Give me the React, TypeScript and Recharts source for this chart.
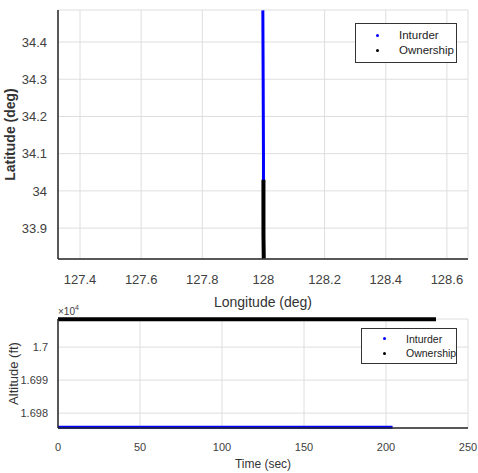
import React from 'react';
import { LineChart, Line, XAxis, YAxis, CartesianGrid, Legend, Label } from 'recharts';

// top panel: ground track
const intruderLon = [127.998, 127.999, 128.0, 128.0, 128.0];
const intruderLat = [34.485, 34.3, 34.1, 34.0, 33.92];
const ownshipLon = [128.0, 128.0, 128.0, 128.001];
const ownshipLat = [34.03, 33.95, 33.88, 33.818];
const lonTicks = [127.4, 127.6, 127.8, 128, 128.2, 128.4, 128.6];
const latTicks = [33.9, 34, 34.1, 34.2, 34.3, 34.4];

// bottom panel: altitude vs time
const intruderTime = [0, 50, 100, 150, 204];
const intruderAlt = [16975.7, 16975.7, 16975.7, 16975.7, 16975.7];
const ownshipTime = [0, 50, 100, 150, 200, 230.5];
const ownshipAlt = [17008.4, 17008.4, 17008.4, 17008.4, 17008.4, 17008.4];
const timeTicks = [0, 50, 100, 150, 200, 250];
const altTicks = [16980, 16990, 17000];

const SERIES = [
  { name: 'Inturder', color: '#0000ff' },
  { name: 'Ownership', color: '#000000' },
];

const FONT = '"Liberation Sans", Arial, sans-serif';
const TICK = '#404040';
const GRID = '#dedede';
const AXIS = '#262626';

const track = (lon: number[], lat: number[]) => lon.map((x, i) => ({ lon: x, lat: lat[i] }));
const alt = (t: number[], a: number[]) => t.map((x, i) => ({ t: x, alt: a[i] }));

const LegendBox = ({ w, h, fs, dotX, textX }: { w: number; h: number; fs: number; dotX: number; textX: number }) => (
  <div
    style={{
      width: w,
      height: h,
      boxSizing: 'border-box',
      border: '1px solid #333',
      background: '#fff',
      fontFamily: FONT,
      fontSize: fs,
      color: '#222',
      display: 'flex',
      flexDirection: 'column',
      justifyContent: 'center',
      gap: 4,
    }}
  >
    {SERIES.map(s => (
      <div key={s.name} style={{ display: 'flex', alignItems: 'center', lineHeight: 1, whiteSpace: 'nowrap' }}>
        <span
          style={{
            flex: '0 0 3px',
            width: 3,
            height: 3,
            borderRadius: 2,
            background: s.color,
            marginLeft: dotX,
            marginRight: textX - dotX - 3,
          }}
        />
        <span>{s.name}</span>
      </div>
    ))}
  </div>
);

const TimesTen = (props: any) => {
  const { viewBox } = props;
  return (
    <text x={viewBox.x + viewBox.width} y={viewBox.y - 4} fill={TICK} fontSize={10} fontFamily={FONT}>
      ×10
      <tspan dy={-5} fontSize={7}>4</tspan>
    </text>
  );
};

export default function App() {
  return (
    <div style={{ position: 'absolute', left: 0, top: 0, width: 478, height: 473, background: '#fff' }}>
      <div style={{ position: 'absolute', left: 0, top: 0 }}>
        <LineChart width={478} height={310} margin={{ top: 10, right: 10, bottom: 0, left: 0 }}>
          <CartesianGrid stroke={GRID} strokeWidth={1} />
          <XAxis
            type="number"
            dataKey="lon"
            domain={[127.328, 128.669]}
            ticks={lonTicks}
            allowDataOverflow
            height={51}
            tickLine={false}
            tickMargin={10}
            stroke={AXIS}
            strokeWidth={1.5}
            tick={{ fill: TICK, fontSize: 13, fontFamily: FONT }}
          >
            <Label value="Longitude (deg)" position="insideBottom" offset={3} fill="#333" fontSize={14} fontFamily={FONT} />
          </XAxis>
          <YAxis
            type="number"
            dataKey="lat"
            domain={[33.817, 34.486]}
            ticks={latTicks}
            allowDataOverflow
            width={58}
            tickLine={false}
            tickMargin={5}
            stroke={AXIS}
            strokeWidth={1.5}
            tick={{ fill: TICK, fontSize: 13, fontFamily: FONT }}
          >
            <Label
              value="Latitude (deg)"
              angle={-90}
              position="insideLeft"
              offset={10}
              fill="#333"
              fontSize={14}
              fontWeight="bold"
              fontFamily={FONT}
              style={{ textAnchor: 'middle' }}
            />
          </YAxis>
          <Line
            data={track(intruderLon, intruderLat)}
            dataKey="lat"
            name="Inturder"
            stroke="#0000ff"
            strokeWidth={3}
            dot={false}
            isAnimationActive={false}
          />
          <Line
            data={track(ownshipLon, ownshipLat)}
            dataKey="lat"
            name="Ownership"
            stroke="#000000"
            strokeWidth={4}
            dot={false}
            isAnimationActive={false}
          />
          <Legend
            layout="horizontal"
            verticalAlign="middle"
            align="center"
            wrapperStyle={{ left: 355, top: 23, width: 102, height: 40 }}
            content={() => <LegendBox w={102} h={40} fs={11.5} dotX={20} textX={43} />}
          />
        </LineChart>
      </div>
      <div style={{ position: 'absolute', left: 0, top: 300 }}>
        <LineChart width={478} height={173} margin={{ top: 19, right: 10, bottom: 0, left: 0 }}>
          <CartesianGrid stroke={GRID} strokeWidth={1} />
          <XAxis
            type="number"
            dataKey="t"
            domain={[0, 250]}
            ticks={timeTicks}
            height={45}
            tickLine={false}
            tickMargin={9}
            stroke={AXIS}
            strokeWidth={1.5}
            tick={{ fill: TICK, fontSize: 11, fontFamily: FONT }}
          >
            <Label value="Time (sec)" position="insideBottom" offset={5} fill="#333" fontSize={12} fontFamily={FONT} />
          </XAxis>
          <YAxis
            type="number"
            dataKey="alt"
            domain={[16975.5, 17008.5]}
            ticks={altTicks}
            width={58}
            tickLine={false}
            tickMargin={4}
            stroke={AXIS}
            strokeWidth={1.5}
            tickFormatter={(v: number) => String(+(v / 10000).toFixed(3))}
            tick={{ fill: TICK, fontSize: 11, fontFamily: FONT }}
          >
            <Label
              value="Altitude (ft)"
              angle={-90}
              position="insideLeft"
              offset={13}
              fill="#333"
              fontSize={13}
              fontFamily={FONT}
              style={{ textAnchor: 'middle' }}
            />
            <Label position="top" content={TimesTen} />
          </YAxis>
          <Line
            data={alt(intruderTime, intruderAlt)}
            dataKey="alt"
            name="Inturder"
            stroke="#0000ff"
            strokeWidth={3}
            dot={false}
            isAnimationActive={false}
          />
          <Line
            data={alt(ownshipTime, ownshipAlt)}
            dataKey="alt"
            name="Ownership"
            stroke="#000000"
            strokeWidth={4}
            dot={false}
            isAnimationActive={false}
          />
          <Legend
            layout="horizontal"
            verticalAlign="middle"
            align="center"
            wrapperStyle={{ left: 361, top: 28, width: 96, height: 36 }}
            content={() => <LegendBox w={96} h={36} fs={10.5} dotX={21} textX={44} />}
          />
        </LineChart>
      </div>
    </div>
  );
}
